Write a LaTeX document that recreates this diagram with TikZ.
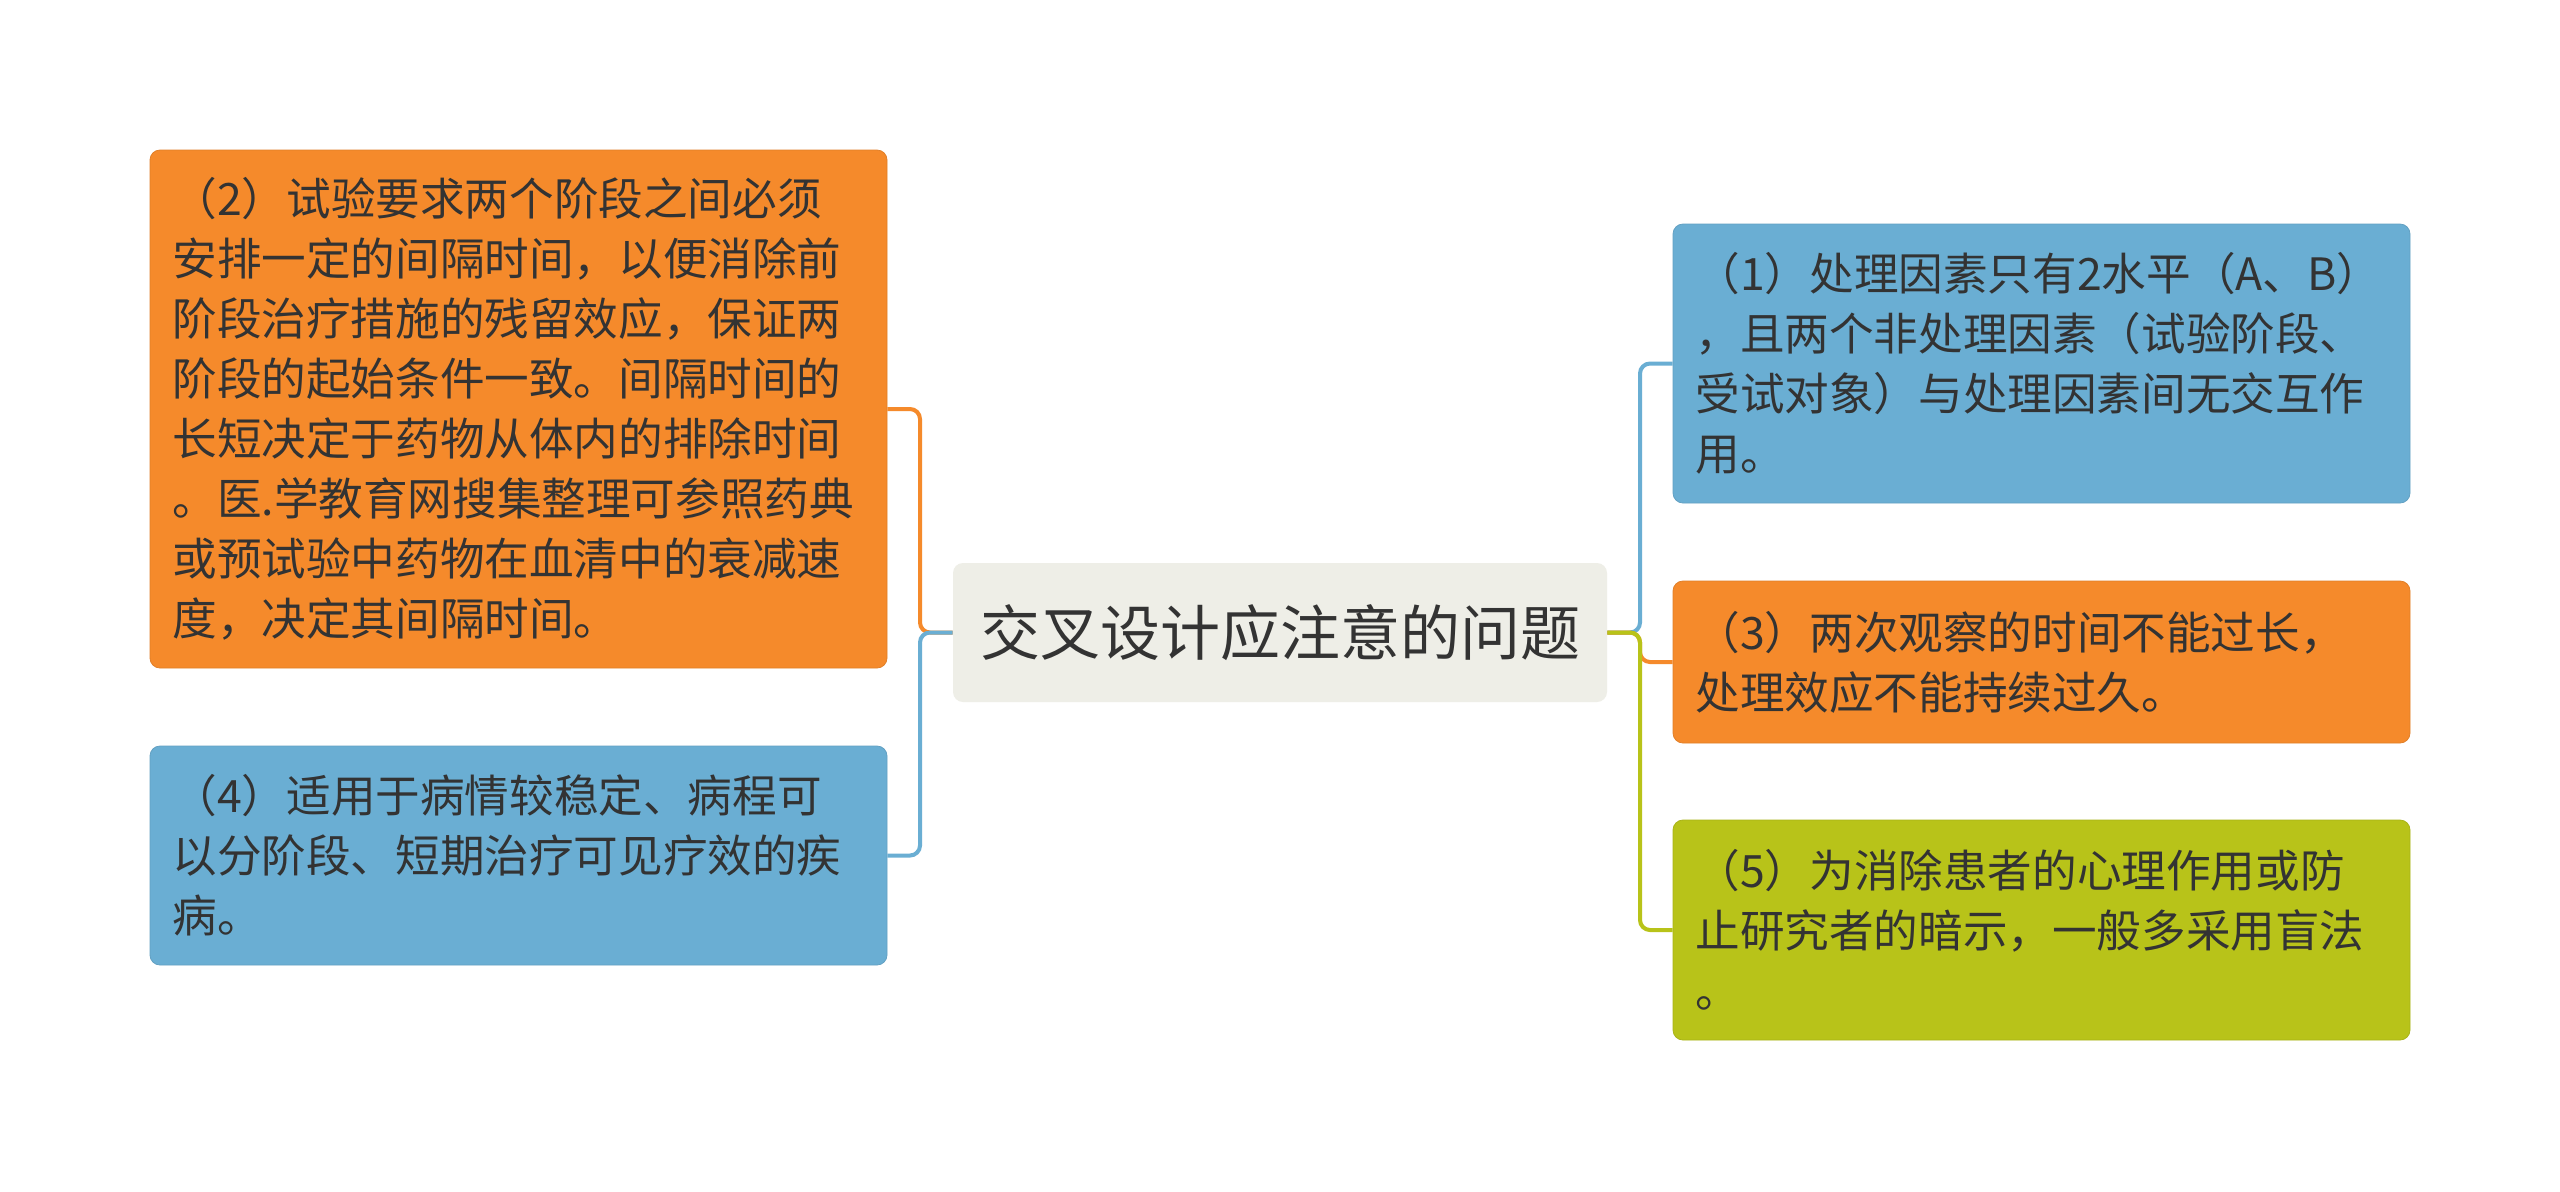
\documentclass[tikz,border=0pt]{standalone}
\usepackage{fontspec}
\setmainfont{Noto Sans CJK SC}
\usepackage{tikz}
\usetikzlibrary{positioning,calc}

\definecolor{leafOrange}{HTML}{F58A2B}
\definecolor{leafBlue}{HTML}{6AAED3}
\definecolor{leafGreen}{HTML}{B8C319}
\definecolor{rootFill}{HTML}{EEEEE7}
\definecolor{inkGray}{HTML}{333333}

\tikzset{
    leafbox/.style={
        rounded corners=5pt,
        text width=346pt,
        inner xsep=11.25pt,
        inner ysep=0pt,
        align=left,
        text=inkGray,
        font=\fontsize{22.3pt}{30pt}\selectfont
    },
    branch/.style={line width=2pt, rounded corners=5pt}
}

\begin{document}
\begin{tikzpicture}[x=0.5pt, y=-0.5pt]

    % Canvas: same size as the reference, in its pixels
    \fill[white] (0,0) rectangle (2560,1191);
    \useasboundingbox (0,0) rectangle (2560,1191);

    % Central topic
    \node[
        rounded corners=5pt,
        fill=rootFill,
        minimum width=327pt,
        minimum height=69.5pt,
        text=inkGray,
        font=\fontsize{30pt}{36pt}\selectfont
    ] (root) at (1280,632.5) {交叉设计应注意的问题};

    % Left leaves
    \node[leafbox, fill=leafOrange, draw=leafOrange!92!black, line width=0.4pt, minimum height=259pt] (trial) at (518.5,409) {
        （2）试验要求两个阶段之间必须\\
        安排一定的间隔时间，以便消除前\\
        阶段治疗措施的残留效应，保证两\\
        阶段的起始条件一致。间隔时间的\\
        长短决定于药物从体内的排除时间\\
        。医.学教育网搜集整理可参照药典\\
        或预试验中药物在血清中的衰减速\\
        度，决定其间隔时间。
    };
    \node[leafbox, fill=leafBlue, draw=leafBlue!92!black, line width=0.4pt, minimum height=109.5pt] (disease) at (518.5,855.5) {
        （4）适用于病情较稳定、病程可\\
        以分阶段、短期治疗可见疗效的疾\\
        病。
    };

    % Right leaves
    \node[leafbox, fill=leafBlue, draw=leafBlue!92!black, line width=0.4pt, minimum height=139.5pt] (factor) at (2041.5,363.5) {
        （1）处理因素只有2水平（A、B）\\
        ，且两个非处理因素（试验阶段、\\
        受试对象）与处理因素间无交互作\\
        用。
    };
    \node[leafbox, fill=leafOrange, draw=leafOrange!92!black, line width=0.4pt, minimum height=81pt] (observe) at (2041.5,662) {
        （3）两次观察的时间不能过长，\\
        处理效应不能持续过久。
    };
    \node[leafbox, fill=leafGreen, draw=leafGreen!92!black, line width=0.4pt, minimum height=110pt] (blind) at (2041.5,930) {
        （5）为消除患者的心理作用或防\\
        止研究者的暗示，一般多采用盲法\\
        。
    };

    % Branches: bus halfway between root and leaves
    \coordinate (lbus) at ($(root.west)!0.5!(trial.east |- root.west)$);
    \coordinate (rbus) at ($(root.east)!0.5!(factor.west |- root.east)$);

    \draw[branch, leafOrange] (root.west) -- (lbus) |- (trial.east);
    \draw[branch, leafBlue] (root.west) -- (lbus) |- (disease.east);

    \draw[branch, leafBlue] (root.east) -- (rbus) |- (factor.west);
    \draw[branch, leafOrange] (root.east) -- (rbus) |- (observe.west);
    \draw[branch, leafGreen] (root.east) -- (rbus) |- (blind.west);

\end{tikzpicture}
\end{document}
